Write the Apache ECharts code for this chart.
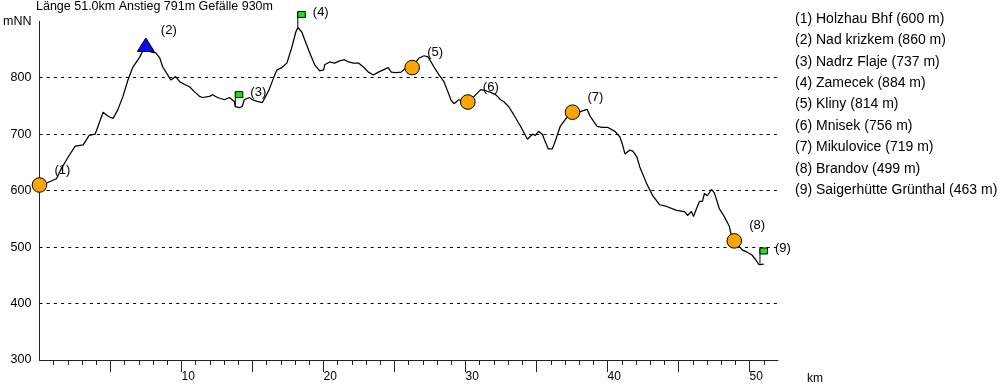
<!DOCTYPE html>
<html>
<head>
<meta charset="utf-8">
<script src="https://cdn.jsdelivr.net/npm/echarts@6/dist/echarts.min.js"></script>
<style>html,body{margin:0;padding:0;background:#fff;}#c{width:1000px;height:385px;}</style>
</head>
<body>
<div id="c"></div>
<script>
// ---- data ----
const summary = { lengthKm: '51.0', ascent: 791, descent: 930 };
const profileKm = [0.0,0.56,1.19,1.54,2.03,2.52,3.08,3.50,3.92,4.48,4.76,4.97,5.18,5.53,5.88,6.23,6.58,7.07,7.35,7.84,8.19,8.47,8.68,9.03,9.24,9.59,9.87,10.22,10.57,10.92,11.27,11.48,11.97,12.18,12.53,13.02,13.37,13.72,13.79,14.07,14.28,14.42,14.77,14.98,15.33,15.68,15.89,16.17,16.52,16.73,17.07,17.42,17.77,18.05,18.19,18.47,18.68,19.03,19.38,19.73,19.87,20.01,20.08,20.43,20.78,21.13,21.48,21.76,22.11,22.46,22.81,23.16,23.51,23.86,24.21,24.56,24.77,25.12,25.47,25.82,26.31,26.73,27.08,27.36,27.78,28.13,28.48,28.76,28.97,29.18,29.53,29.88,30.37,30.72,31.07,31.42,31.77,32.12,32.47,32.68,33.03,33.38,33.87,34.36,34.71,34.92,35.13,35.41,35.62,35.83,36.11,36.32,36.67,37.02,37.51,38.07,38.56,38.77,39.26,39.61,40.03,40.52,40.87,41.08,41.22,41.36,41.57,41.78,42.06,42.27,42.76,43.18,43.67,44.16,44.86,45.42,45.63,45.91,46.05,46.26,46.47,46.68,46.82,47.03,47.31,47.52,47.87,48.22,48.57,48.71,48.92,49.48,49.83,50.17,50.45,50.66,51.0];
const profileAlt = [605,614,621,639,660,679,681,698,700,739,733,730,728,744,767,796,819,837,852,846,844,835,819,805,796,802,793,788,784,775,767,765,767,770,765,761,765,758,749,747,749,761,765,761,758,756,765,779,802,814,818,826,854,881,889,881,867,844,823,812,810,814,823,828,826,830,832,828,826,826,819,810,805,810,814,818,810,809,810,818,821,835,839,837,819,805,793,775,761,754,761,758,761,770,779,777,774,770,761,758,749,735,714,691,700,698,705,700,686,674,674,688,714,726,739,740,744,732,714,712,712,705,695,679,665,663,672,670,660,642,612,591,575,572,565,563,556,563,554,568,581,581,595,591,602,596,568,554,537,521,511,495,491,486,477,469,470];

const waypointNames = ['Holzhau Bhf','Nad krizkem','Nadrz Flaje','Zamecek','Kliny','Mnisek','Mikulovice','Brandov','Saigerhütte Grünthal'];
const waypointElev  = [600, 860, 737, 884, 814, 756, 719, 499, 463];
const waypointKm    = [0.0, 7.49, 13.79, 18.19, 26.24, 30.16, 37.53, 48.92, 50.73];
const waypointPlotAlt = [610, 858, 748, 890, 818, 757, 739, 511, 471];
const waypointKind  = ['circle','peak','flag','flag','circle','circle','circle','circle','flag'];

const gridLevels = [400, 500, 600, 700, 800];
const xLabelValues = [10, 20, 30, 40, 50];
const xMajorTicks = [5, 10, 15, 20, 25, 30, 35, 40, 45, 50];
const xMinorTicks = [1,2,3,4,6,7,8,9,11,12,13,14,16,17,18,19,21,22,23,24,26,27,28,29,31,32,33,34,36,37,38,39,41,42,43,44,46,47,48,49,51];

// ---- chart ----
const FONT = '"Liberation Sans", Arial, Helvetica, sans-serif';
const chart = echarts.init(document.getElementById('c'), null, { renderer: 'canvas' });

const legendGraphics = waypointNames.map((n, i) => ({
  type: 'text', left: 795, top: 12 + i * 21.4,
  style: { text: `(${i + 1}) ${n} (${waypointElev[i]} m)`, font: `14px ${FONT}`, fill: '#000' }
}));

const option = {
  animation: false,
  backgroundColor: '#fff',
  textStyle: { fontFamily: FONT },
  title: {
    text: `Länge ${summary.lengthKm}km Anstieg ${summary.ascent}m Gefälle ${summary.descent}m`,
    left: 36, top: 0, padding: 0,
    textStyle: { fontSize: 12.5, fontWeight: 'normal', color: '#000', fontFamily: FONT }
  },
  grid: { left: 36, right: 222, top: 21.3, bottom: 21.7, containLabel: false },
  xAxis: [
    {
      type: 'value', min: 0, max: 52, position: 'bottom',
      axisLine: { show: true, lineStyle: { color: '#222', width: 1 } },
      axisTick: { show: true, customValues: xMajorTicks, length: 12, lineStyle: { color: '#222', width: 1 } },
      axisLabel: { show: true, customValues: xLabelValues, align: 'left', margin: 11, color: '#000', fontSize: 12, fontFamily: FONT },
      splitLine: { show: false },
      name: 'km', nameLocation: 'end', nameGap: 29,
      nameTextStyle: { color: '#000', fontSize: 12, fontFamily: FONT, verticalAlign: 'top', padding: [13, 0, 0, 0] }
    },
    {
      type: 'value', min: 0, max: 52, position: 'bottom',
      axisLine: { show: false },
      axisTick: { show: true, customValues: xMinorTicks, length: 5, lineStyle: { color: '#222', width: 1 } },
      axisLabel: { show: false },
      splitLine: { show: false }
    }
  ],
  yAxis: {
    type: 'value', min: 300, max: 900, interval: 100,
    axisLine: { show: true, lineStyle: { color: '#222', width: 1 } },
    axisTick: { show: false },
    axisLabel: {
      color: '#000', fontSize: 12.5, fontFamily: FONT, margin: 8,
      formatter: v => (v === 900 ? 'mNN' : String(v))
    },
    splitLine: { show: false }
  },
  graphic: legendGraphics,
  series: [
    {
      type: 'line', xAxisIndex: 0,
      data: profileKm.map((k, i) => [k, profileAlt[i]]),
      showSymbol: false, symbol: 'none',
      lineStyle: { color: '#000', width: 1.25 },
      z: 3,
      markLine: {
        silent: true, symbol: ['none', 'none'], label: { show: false },
        lineStyle: { type: [3, 4.2], color: '#000', width: 1 },
        data: gridLevels.map(v => ({ yAxis: v }))
      }
    },
    {
      type: 'custom', xAxisIndex: 0, clip: false, z: 5,
      data: waypointKm.map((k, i) => [k, waypointPlotAlt[i]]),
      renderItem: (params, api) => {
        const i = params.dataIndex;
        const p = api.coord([api.value(0), api.value(1)]);
        const x = p[0], y = p[1];
        const kind = waypointKind[i];
        const children = [];
        if (kind === 'circle') {
          children.push({ type: 'circle', shape: { cx: x, cy: y, r: 7.3 }, style: { fill: '#ffa500', stroke: '#000', lineWidth: 1 } });
        } else if (kind === 'peak') {
          children.push({ type: 'polygon', shape: { points: [[x, y - 7], [x - 8.5, y + 6.5], [x + 8.5, y + 6.5]] }, style: { fill: '#0a0af0', stroke: '#000', lineWidth: 1 } });
        } else {
          children.push({ type: 'line', shape: { x1: x, y1: y, x2: x, y2: y - 15 }, style: { stroke: '#000', lineWidth: 1 } });
          children.push({ type: 'rect', shape: { x: x, y: y - 15.5, width: 7.5, height: 6 }, style: { fill: '#22dd22', stroke: '#000', lineWidth: 1 } });
        }
        children.push({
          type: 'text', x: x + 15, y: y - 15,
          style: { text: `(${i + 1})`, font: `13px ${FONT}`, fill: '#000', align: 'left', verticalAlign: 'middle' }
        });
        return { type: 'group', children };
      }
    }
  ]
};
chart.setOption(option);
</script>
</body>
</html>
